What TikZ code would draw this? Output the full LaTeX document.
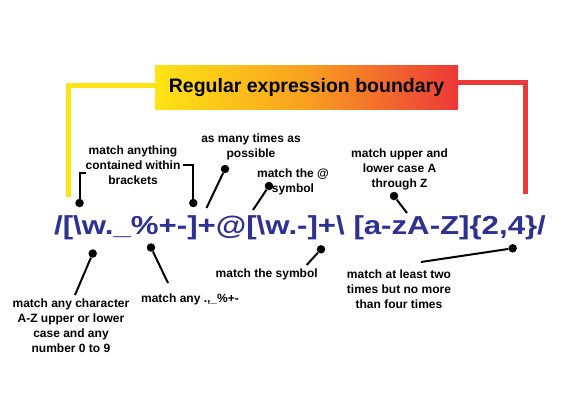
\documentclass[tikz,border=0pt]{standalone}
\usepackage{graphicx}
\usepackage{fontspec}
\setmainfont{Liberation Sans}
\definecolor{regexblue}{RGB}{45,49,146}
\definecolor{boundyellow}{RGB}{255,228,20}
\definecolor{boundorange}{RGB}{248,160,32}
\definecolor{boundred}{RGB}{236,56,56}
\tikzstyle{note} = [font=\bfseries\fontsize{12}{15}\selectfont, align=center, inner sep=0pt]
\tikzstyle{tipdot} = [circle, fill=black, inner sep=0pt, minimum size=8.5pt]
\tikzstyle{lead} = [line width=2pt]
\tikzstyle{boundary} = [line width=5pt]
\tikzstyle{titlebox} = [minimum width=303pt, minimum height=43pt, inner sep=0pt,
	left color=boundyellow, right color=boundred, middle color=boundorange,
	font=\bfseries\fontsize{19.5}{22}\selectfont]
\tikzstyle{regex} = [text=regexblue, font=\bfseries\fontsize{26}{30}\selectfont, inner sep=0pt, anchor=base]
\newcommand{\pointer}[3]{
	\node(dot#1) at (#2) [tipdot] {};
	\coordinate(end#1) at (#3);
	\draw[lead] (dot#1) -- (end#1);
}

\begin{document}
\begin{tikzpicture}[x=1pt, y=-1pt]
	\useasboundingbox[fill=white] (0,0) rectangle (570,420);

	\node(title) at (306.5,87.5) [titlebox] {Regular expression boundary};
	\coordinate(leftfoot) at (68.5,197);
	\coordinate(rightfoot) at (525,194);
	\draw[boundary, boundyellow] ([yshift=2.5pt]title.west) -| (leftfoot);
	\draw[boundary, boundred] ([yshift=5pt]title.east) -| (rightfoot);

	\node(expr) at (300,234) [regex] {\scalebox{1.2}[1]{/[\textbackslash w.\_\%+-]+@[\textbackslash w.-]+\textbackslash\ [a-zA-Z]\{2,4\}/}};

	\node(brackets) at (133,165) [note] {match anything\\contained within\\brackets};
	\node(many) at (251,146.5) [note] {as many times as\\possible};
	\node(atsign) at (293,181.5) [note] {match the @\\symbol};
	\node(letters) at (399.5,169) [note] {match upper and\\lower case A\\through Z};
	\node(word) at (71,326) [note] {match any character\\A-Z upper or lower\\case and any\\number 0 to 9};
	\node(special) at (190,299) [note] {match any .,\_\%+-};
	\node(symbol) at (266.7,274) [note] {match the symbol};
	\node(count) at (399,289.5) [note] {match at least two\\times but no more\\than four times};

	\node(dotopen) at (79.5,203) [tipdot] {};
	\coordinate(endopen) at (86,173);
	\draw[lead] (dotopen) |- (endopen);
	\node(dotclose) at (193.3,203) [tipdot] {};
	\coordinate(endclose) at (182.5,165);
	\draw[lead] (dotclose) |- (endclose);

	\pointer{many}{225,169}{206.5,208}
	\pointer{atsign}{269,186}{253,210}
	\pointer{letters}{394,196}{407,213}
	\pointer{word}{92.7,253.5}{75,295}
	\pointer{special}{151,247.5}{168,283}
	\pointer{symbol}{321,249.3}{306.7,265}
	\pointer{count}{512.7,248.3}{421,262}
\end{tikzpicture}
\end{document}
